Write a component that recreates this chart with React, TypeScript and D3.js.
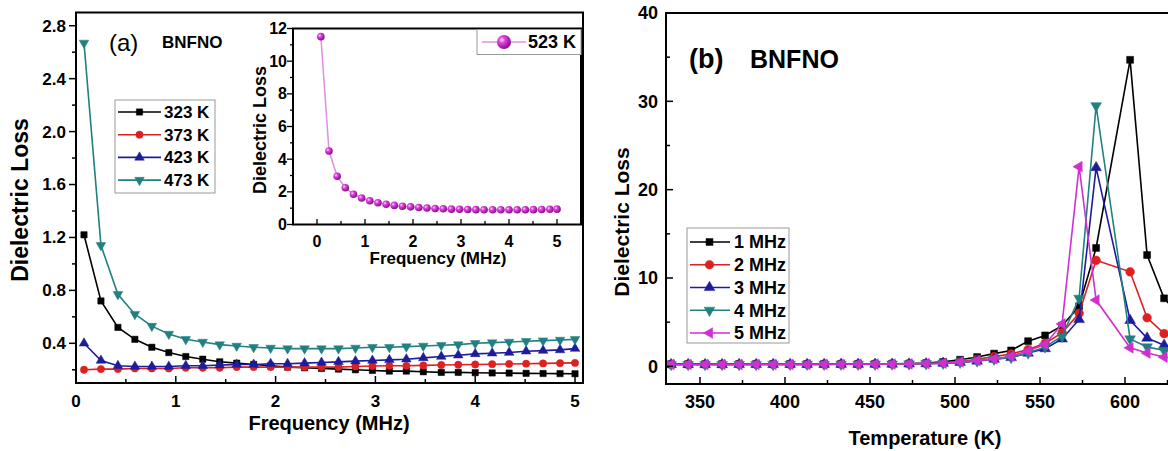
import React from "react";
import * as d3 from "d3";

// ---------- Panel (a): frequency dependence ----------
const FREQ_MHZ = [0.08, 0.25, 0.42, 0.59, 0.76, 0.93, 1.1, 1.27, 1.44, 1.61, 1.78, 1.95, 2.12, 2.29, 2.46, 2.63, 2.8, 2.97, 3.14, 3.31, 3.48, 3.66, 3.83, 4.0, 4.17, 4.34, 4.51, 4.68, 4.85, 5.0];
const LOSS_323K = [1.22, 0.72, 0.52, 0.43, 0.37, 0.33, 0.3, 0.28, 0.26, 0.25, 0.24, 0.23, 0.22, 0.215, 0.21, 0.205, 0.2, 0.195, 0.19, 0.19, 0.185, 0.18, 0.18, 0.178, 0.176, 0.175, 0.173, 0.172, 0.171, 0.17];
const LOSS_373K = [0.2, 0.205, 0.205, 0.21, 0.21, 0.21, 0.215, 0.215, 0.215, 0.22, 0.22, 0.22, 0.22, 0.22, 0.22, 0.22, 0.225, 0.228, 0.23, 0.23, 0.233, 0.236, 0.238, 0.24, 0.242, 0.244, 0.246, 0.248, 0.25, 0.252];
const LOSS_423K = [0.4, 0.27, 0.23, 0.225, 0.225, 0.225, 0.23, 0.23, 0.235, 0.24, 0.24, 0.245, 0.245, 0.25, 0.255, 0.26, 0.265, 0.27, 0.275, 0.28, 0.29, 0.3, 0.31, 0.32, 0.325, 0.33, 0.34, 0.345, 0.35, 0.36];
const LOSS_473K = [2.67, 1.14, 0.77, 0.62, 0.53, 0.47, 0.43, 0.41, 0.39, 0.38, 0.37, 0.365, 0.36, 0.36, 0.36, 0.36, 0.365, 0.37, 0.37, 0.375, 0.38, 0.385, 0.39, 0.4, 0.405, 0.41, 0.415, 0.42, 0.425, 0.43];
const LOSS_523K = [11.5, 4.5, 2.95, 2.25, 1.85, 1.62, 1.45, 1.33, 1.24, 1.17, 1.12, 1.08, 1.04, 1.01, 0.98, 0.96, 0.94, 0.93, 0.92, 0.91, 0.9, 0.9, 0.9, 0.9, 0.9, 0.9, 0.91, 0.92, 0.93, 0.94];
const A_LABELS = ["323 K", "373 K", "423 K", "473 K"];
const A_X_TICKS = [0, 1, 2, 3, 4, 5];
const A_Y_TICKS = [0.4, 0.8, 1.2, 1.6, 2.0, 2.4, 2.8];
const INSET_X_TICKS = [0, 1, 2, 3, 4, 5];
const INSET_Y_TICKS = [0, 2, 4, 6, 8, 10, 12];

// ---------- Panel (b): temperature dependence ----------
const TEMP_K = [333, 343, 353, 363, 373, 383, 393, 403, 413, 423, 433, 443, 453, 463, 473, 483, 493, 503, 513, 523, 533, 543, 553, 563, 573, 583, 603, 613, 623, 633];
const LOSS_1MHZ = [0.25, 0.25, 0.25, 0.25, 0.26, 0.26, 0.27, 0.27, 0.27, 0.28, 0.28, 0.28, 0.29, 0.3, 0.32, 0.36, 0.5, 0.75, 1.05, 1.44, 1.8, 2.85, 3.5, 4.6, 6.8, 13.4, 34.7, 12.6, 7.7, 5.6];
const LOSS_2MHZ = [0.22, 0.22, 0.22, 0.22, 0.22, 0.23, 0.23, 0.23, 0.24, 0.24, 0.25, 0.25, 0.26, 0.27, 0.29, 0.32, 0.4, 0.55, 0.8, 1.1, 1.4, 1.9, 2.6, 3.8, 6.0, 12.0, 10.7, 5.5, 3.7, 2.8];
const LOSS_3MHZ = [0.2, 0.2, 0.2, 0.2, 0.21, 0.21, 0.21, 0.22, 0.22, 0.22, 0.23, 0.23, 0.24, 0.25, 0.27, 0.3, 0.35, 0.45, 0.6, 0.8, 1.0, 1.5, 2.0, 3.1, 5.3, 22.5, 5.2, 3.2, 2.4, 1.9];
const LOSS_4MHZ = [0.2, 0.2, 0.2, 0.2, 0.21, 0.21, 0.21, 0.22, 0.22, 0.22, 0.23, 0.23, 0.24, 0.25, 0.27, 0.3, 0.35, 0.45, 0.6, 0.8, 1.0, 1.5, 2.2, 3.4, 7.7, 29.5, 3.1, 2.2, 1.8, 1.5];
const LOSS_5MHZ = [0.21, 0.21, 0.21, 0.21, 0.21, 0.22, 0.22, 0.22, 0.22, 0.23, 0.23, 0.24, 0.25, 0.26, 0.28, 0.31, 0.35, 0.5, 0.65, 0.85, 1.15, 1.75, 2.5, 4.8, 22.6, 7.5, 2.1, 1.5, 1.05, 0.8];
const B_LABELS = ["1 MHz", "2 MHz", "3 MHz", "4 MHz", "5 MHz"];
const B_X_TICKS = [350, 400, 450, 500, 550, 600];
const B_Y_TICKS = [0, 10, 20, 30, 40];

const FONT = "'Liberation Sans', Arial, Helvetica, sans-serif";
const BLACK = "#000000";
const RED = "#dd2020";
const BLUE = "#1c1c9c";
const TEAL = "#218080";
const MAGENTA = "#d030d0";

type Shape = "square" | "circle" | "up" | "down" | "left";

function markerPath(shape: Shape, size: number) {
  const t =
    shape === "square" ? d3.symbolSquare : shape === "circle" ? d3.symbolCircle : d3.symbolTriangle;
  return d3.symbol().type(t).size(size)() || "";
}
function rot(shape: Shape) {
  return shape === "down" ? 180 : shape === "left" ? -90 : 0;
}

function Marker({ x, y, shape, size, color }: { x: number; y: number; shape: Shape; size: number; color: string }) {
  return (
    <path
      d={markerPath(shape, size)}
      transform={`translate(${x},${y}) rotate(${rot(shape)})`}
      fill={color}
      stroke={color}
      strokeWidth={0.5}
    />
  );
}

function range(a: number, b: number, step: number) {
  const out: number[] = [];
  for (let v = a; v <= b + 1e-9; v += step) out.push(+v.toFixed(6));
  return out;
}

export default function App() {
  // panel (a)
  const xA = d3.scaleLinear().domain([0, 5.08]).range([76, 583]);
  const yA = d3.scaleLinear().domain([0.1, 2.9]).range([383, 12.5]);
  const seriesA = [
    { vals: LOSS_323K, color: BLACK, shape: "square" as Shape, size: 40 },
    { vals: LOSS_373K, color: RED, shape: "circle" as Shape, size: 42 },
    { vals: LOSS_423K, color: BLUE, shape: "up" as Shape, size: 40 },
    { vals: LOSS_473K, color: TEAL, shape: "down" as Shape, size: 40 },
  ];
  const lineA = (vals: number[]) =>
    d3.line<number>().x((_, i) => xA(FREQ_MHZ[i])).y((v) => yA(v))(vals) || "";

  // inset
  const xI = d3.scaleLinear().domain([-0.5, 5.5]).range([293, 581]);
  const yI = d3.scaleLinear().domain([0, 12]).range([224.5, 28.5]);
  const lineI = d3.line<number>().x((_, i) => xI(FREQ_MHZ[i])).y((v) => yI(v))(LOSS_523K) || "";

  // panel (b)
  const xB = d3.scaleLinear().domain([330, 650]).range([666, 1210]);
  const yB = d3.scaleLinear().domain([-2, 40]).range([384, 13]);
  const seriesB = [
    { vals: LOSS_1MHZ, color: BLACK, shape: "square" as Shape, size: 48 },
    { vals: LOSS_2MHZ, color: RED, shape: "circle" as Shape, size: 60 },
    { vals: LOSS_3MHZ, color: BLUE, shape: "up" as Shape, size: 50 },
    { vals: LOSS_4MHZ, color: TEAL, shape: "down" as Shape, size: 50 },
    { vals: LOSS_5MHZ, color: MAGENTA, shape: "left" as Shape, size: 50 },
  ];
  const lineB = (vals: number[]) =>
    d3.line<number>().x((_, i) => xB(TEMP_K[i])).y((v) => yB(v))(vals) || "";

  const bold = { fontFamily: FONT, fontWeight: 700 as const };

  return (
    <svg
      width={1168}
      height={451}
      viewBox="0 0 1168 451"
      style={{ position: "absolute", left: 0, top: 0, background: "#fff" }}
    >
      <defs>
        <radialGradient id="ball" cx="35%" cy="35%" r="65%">
          <stop offset="0%" stopColor="#ffd8ff" />
          <stop offset="35%" stopColor="#e040e0" />
          <stop offset="100%" stopColor="#8a108a" />
        </radialGradient>
        <clipPath id="clipB">
          <rect x={666} y={13} width={510} height={371} />
        </clipPath>
      </defs>
      <rect x={0} y={0} width={1168} height={451} fill="#fff" />

      {/* ================= PANEL (a) ================= */}
      {seriesA.map((s, k) => (
        <g key={k}>
          <path d={lineA(s.vals)} fill="none" stroke={s.color} strokeWidth={1.6} />
          {s.vals.map((v, i) => (
            <Marker key={i} x={xA(FREQ_MHZ[i])} y={yA(v)} shape={s.shape} size={s.size} color={s.color} />
          ))}
        </g>
      ))}
      <rect x={76} y={12.5} width={507} height={370.5} fill="none" stroke="#000" strokeWidth={2} />
      {/* y ticks (outward) */}
      {range(0.2, 2.8, 0.2).map((v, i) => {
        const major = A_Y_TICKS.some((t) => Math.abs(t - v) < 1e-6);
        return <line key={i} x1={76} x2={major ? 69 : 72} y1={yA(v)} y2={yA(v)} stroke="#000" strokeWidth={1.5} />;
      })}
      {A_Y_TICKS.map((t) => (
        <text key={t} x={66} y={yA(t)} dy="0.35em" textAnchor="end" fontSize={17} {...bold}>
          {t.toFixed(1)}
        </text>
      ))}
      {/* x ticks (inward) */}
      {range(0, 5, 0.5).map((v, i) => {
        const major = Math.abs(v - Math.round(v)) < 1e-6;
        return <line key={i} x1={xA(v)} x2={xA(v)} y1={383} y2={major ? 376 : 379} stroke="#000" strokeWidth={1.5} />;
      })}
      {A_X_TICKS.map((t) => (
        <text key={t} x={xA(t)} y={407} textAnchor="middle" fontSize={17} {...bold}>
          {t}
        </text>
      ))}
      <text x={329} y={430} textAnchor="middle" fontSize={20} {...bold}>
        Frequency (MHz)
      </text>
      <text transform="translate(28,200) rotate(-90)" textAnchor="middle" fontSize={23} {...bold}>
        Dielectric Loss
      </text>
      <text x={109} y={51} fontSize={24} fontFamily={FONT} fontWeight={500}>
        (a)
      </text>
      <text x={162} y={48} fontSize={17} {...bold}>
        BNFNO
      </text>

      {/* legend (a) */}
      <rect x={115} y={100} width={100} height={93} fill="#fff" stroke="#999" strokeWidth={1} />
      {seriesA.map((s, k) => {
        const y = 112 + k * 22.7;
        return (
          <g key={k}>
            <line x1={118} x2={161} y1={y} y2={y} stroke={s.color} strokeWidth={1.6} />
            <Marker x={139.5} y={y} shape={s.shape} size={s.size} color={s.color} />
            <text x={164} y={y} dy="0.35em" fontSize={17} {...bold}>
              {A_LABELS[k]}
            </text>
          </g>
        );
      })}

      {/* inset */}
      <rect x={293} y={28.5} width={288} height={196} fill="#fff" stroke="#000" strokeWidth={2} />
      <path d={lineI} fill="none" stroke="#e090e0" strokeWidth={1.5} />
      {LOSS_523K.map((v, i) => (
        <circle key={i} cx={xI(FREQ_MHZ[i])} cy={yI(v)} r={3.8} fill="url(#ball)" />
      ))}
      {range(0, 12, 1).map((v, i) => {
        const major = v % 2 === 0;
        return <line key={i} x1={293} x2={major ? 287 : 290} y1={yI(v)} y2={yI(v)} stroke="#000" strokeWidth={1.3} />;
      })}
      {INSET_Y_TICKS.map((t) => (
        <text key={t} x={287} y={yI(t)} dy="0.35em" textAnchor="end" fontSize={16} {...bold}>
          {t}
        </text>
      ))}
      {range(-0.5, 5.5, 0.5).map((v, i) => {
        const major = Math.abs(v - Math.round(v)) < 1e-6;
        return <line key={i} x1={xI(v)} x2={xI(v)} y1={224.5} y2={major ? 219 : 221} stroke="#000" strokeWidth={1.3} />;
      })}
      {INSET_X_TICKS.map((t) => (
        <text key={t} x={xI(t)} y={247} textAnchor="middle" fontSize={16} {...bold}>
          {t}
        </text>
      ))}
      <text x={438} y={264} textAnchor="middle" fontSize={17} {...bold}>
        Frequency (MHz)
      </text>
      <text transform="translate(266,130) rotate(-90)" textAnchor="middle" fontSize={18} {...bold}>
        Dielectric Loss
      </text>
      <rect x={477} y={29.5} width={104} height={25} fill="#fff" stroke="#999" strokeWidth={1} />
      <line x1={482} x2={526} y1={42} y2={42} stroke="#e090e0" strokeWidth={1.5} />
      <circle cx={504} cy={42} r={7} fill="url(#ball)" />
      <text x={528} y={42} dy="0.35em" fontSize={18} {...bold}>
        523 K
      </text>

      {/* ================= PANEL (b) ================= */}
      <g clipPath="url(#clipB)">
        {seriesB.map((s, k) => (
          <g key={k}>
            <path d={lineB(s.vals)} fill="none" stroke={s.color} strokeWidth={1.6} />
            {s.vals.map((v, i) => (
              <Marker key={i} x={xB(TEMP_K[i])} y={yB(v)} shape={s.shape} size={s.size} color={s.color} />
            ))}
          </g>
        ))}
      </g>
      <line x1={666} x2={666} y1={12} y2={385} stroke="#000" strokeWidth={2} />
      <line x1={665} x2={1168} y1={384} y2={384} stroke="#000" strokeWidth={2} />
      <line x1={665} x2={1168} y1={13} y2={13} stroke="#000" strokeWidth={2} />
      {range(0, 40, 5).map((v, i) => {
        const major = v % 10 === 0;
        return <line key={i} x1={666} x2={major ? 673 : 670} y1={yB(v)} y2={yB(v)} stroke="#000" strokeWidth={1.5} />;
      })}
      {B_Y_TICKS.map((t) => (
        <text key={t} x={658} y={yB(t)} dy="0.35em" textAnchor="end" fontSize={18} {...bold}>
          {t}
        </text>
      ))}
      {range(350, 625, 25).map((v, i) => {
        const major = v % 50 === 0;
        return <line key={i} x1={xB(v)} x2={xB(v)} y1={384} y2={major ? 377 : 380} stroke="#000" strokeWidth={1.5} />;
      })}
      {B_X_TICKS.map((t) => (
        <text key={t} x={xB(t)} y={408} textAnchor="middle" fontSize={18} {...bold}>
          {t}
        </text>
      ))}
      <text x={925} y={445} textAnchor="middle" fontSize={20} {...bold}>
        Temperature (K)
      </text>
      <text transform="translate(629,222) rotate(-90)" textAnchor="middle" fontSize={21} {...bold}>
        Dielectric Loss
      </text>
      <text x={689} y={68} fontSize={27} {...bold}>
        (b)
      </text>
      <text x={750} y={68} fontSize={25} {...bold}>
        BNFNO
      </text>

      {/* legend (b) */}
      <rect x={687} y={228} width={102} height={115} fill="#fff" stroke="#999" strokeWidth={1} />
      {seriesB.map((s, k) => {
        const y = 242 + k * 22.75;
        return (
          <g key={k}>
            <line x1={690} x2={730} y1={y} y2={y} stroke={s.color} strokeWidth={1.6} />
            <Marker x={709.5} y={y} shape={s.shape} size={s.size} color={s.color} />
            <text x={734} y={y} dy="0.35em" fontSize={18} {...bold}>
              {B_LABELS[k]}
            </text>
          </g>
        );
      })}
    </svg>
  );
}
